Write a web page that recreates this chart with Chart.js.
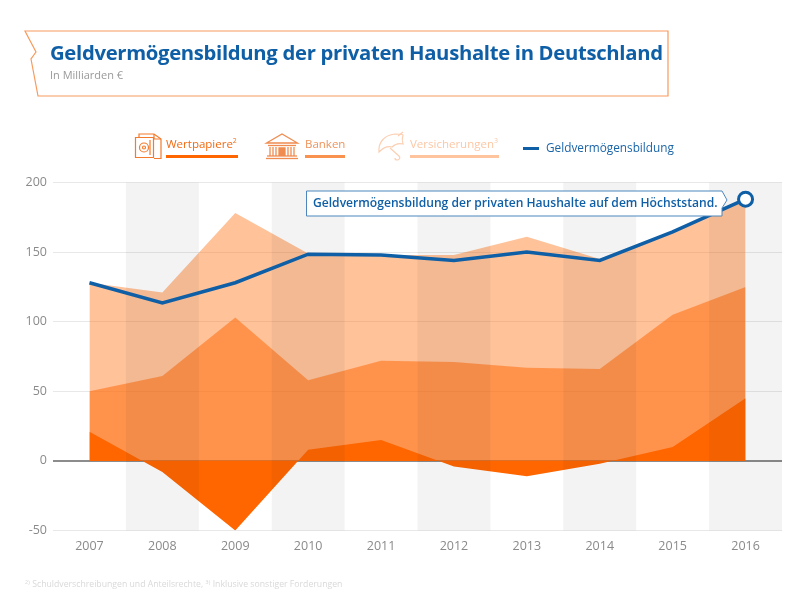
<!DOCTYPE html>
<html lang="de"><head><meta charset="utf-8">
<script src="https://cdn.jsdelivr.net/npm/chart.js@4/dist/chart.umd.min.js"></script>
<style>
html,body{margin:0;padding:0;background:#fff;width:808px;height:600px;overflow:hidden;font-family:"Open Sans",sans-serif}
#c{position:absolute;left:0;top:0}
.t{position:absolute;white-space:nowrap;line-height:1}
sup{font-size:60%;line-height:0;vertical-align:super}
svg{position:absolute;left:0;top:0}
.u{position:absolute;height:3px}
</style></head><body>
<canvas id="c" width="808" height="600"></canvas>
<svg width="808" height="600" viewBox="0 0 808 600" fill="none">
  <polygon points="25,31 668,31 668,96 38,96 31,59 36,52" fill="#fff" stroke="#f79a5c" stroke-width="1.2"/>
  <g stroke="#f47a2c" stroke-width="1.200">
    <path d="M135.500 137.500h18v20h-18z"/><path d="M139 137v-3h15l7 5v19.500h-7"/><path d="M154 134v5h7"/>
    <circle cx="144" cy="147.500" r="4.500"/><circle cx="144" cy="147.500" r="1.500"/><path d="M150 140v15"/>
  </g>
  <g stroke="#f08c50" stroke-width="1.300">
    <path d="M266.500 143l15.500-9 15.500 9z"/><path d="M268 145.500h28"/><path d="M267 156h30"/><path d="M266 158.500h32"/>
    <path d="M270 147v9M273 147v9M276 147v9M288 147v9M291 147v9M294 147v9"/>
    <path d="M279 156v-8h6v8" fill="#f08c50"/>
  </g>
  <g stroke="#fbcfb2" stroke-width="1.200">
    <path d="M379 152c-1-9 5-17 16-18 3 0 6 0 8 1-1 3-1 6 0 9-4-1-8 0-11 3-4-1-9 1-13 5z"/>
    <path d="M390 148l9 8c2 2 0 4-2 4-1 0-2-1-2-2"/><path d="M398 136l5-4"/>
  </g>
</svg>
<div class="t" style="left:50px;top:42px;font-size:20.300px;font-weight:700;color:#0f5fa6;letter-spacing:-.32px">Geldvermögensbildung der privaten Haushalte in Deutschland</div>
<div class="t" style="left:50px;top:69px;font-size:11px;color:#9a9a9a">In Milliarden €</div>

<div class="t" style="left:166px;top:138px;font-size:11.500px;color:#f26a12">Wertpapiere<sup>2</sup></div>
<div class="u" style="left:166px;top:155px;width:72px;background:#ff6600"></div>
<div class="t" style="left:305px;top:138px;font-size:11.500px;color:#f0935a">Banken</div>
<div class="u" style="left:305px;top:155px;width:40px;background:#f9924e"></div>
<div class="t" style="left:410px;top:138px;font-size:11.500px;color:#fcc7a5">Versicherungen<sup>3</sup></div>
<div class="u" style="left:410px;top:155px;width:89px;background:#fec49e"></div>
<div class="u" style="left:523px;top:147px;width:16px;height:3px;background:#0f5fa6"></div>
<div class="t" style="left:546px;top:142px;font-size:11.800px;color:#1a65a8">Geldvermögensbildung</div>

<svg width="808" height="600" viewBox="0 0 808 600" fill="none" style="z-index:2">
  <polygon points="306.500,191 722,191 727,200 722,208 722,216 306.500,216" fill="#fff" stroke="#4d86bd" stroke-width="1"/>
</svg>
<div class="t" style="left:313px;top:197px;font-size:12.100px;font-weight:600;color:#0f5fa6;z-index:3">Geldvermögensbildung der privaten Haushalte auf dem Höchststand.</div>
<div class="t" style="left:25px;top:580px;font-size:8.700px;color:#d9d9d9">²⁾ Schuldverschreibungen und Anteilsrechte, ³⁾ Inklusive sonstiger Forderungen</div>

<script>
const categories = ["2007","2008","2009","2010","2011","2012","2013","2014","2015","2016"];
const wertpapiere = [21,-8,-50,8,15,-4,-11,-2,10,45];
const banken = [50,61,103,58,72,71,67,66,105,125];
const versicherungen = [128,121,178,149,148,148,161,145,165,188];
const geldvermoegen = [128,113.500,128,148.500,148,144,150,144,164.500,188];
const yTicks = [-50,0,50,100,150,200];

const bands = {
  id:'bands',
  beforeDatasetDraw(chart,args){
    if(args.index!==3) return;
    const {ctx,chartArea:a,scales:{x}}=chart;
    ctx.save();
    ctx.globalCompositeOperation='multiply';
    ctx.fillStyle='#f3f3f3';
    categories.forEach((c,i)=>{
      if(i%2===1){
        const w=x.getPixelForValue(1)-x.getPixelForValue(0);
        ctx.fillRect(x.getPixelForValue(i)-w/2,a.top,w,a.bottom-a.top);
      }
    });
    ctx.restore();
  }
};
const area=(label,data,alpha,order)=>({type:'line',label,data,order,fill:'origin',
  backgroundColor:`rgba(255,102,0,${alpha})`,borderWidth:0,pointRadius:0,tension:0});

new Chart(document.getElementById('c'),{
  type:'line',
  data:{labels:categories,datasets:[
    area('Wertpapiere',wertpapiere,1,1),
    area('Banken',banken,0.5,2),
    area('Versicherungen',versicherungen,0.4,3),
    {type:'line',label:'Geldvermögensbildung',data:geldvermoegen,order:0,fill:false,
     borderColor:'#0f5fa6',borderWidth:3.500,tension:0,borderCapStyle:'butt',
     pointRadius:categories.map((c,i)=>i===categories.length-1?7:0),
     pointBackgroundColor:'#fff',pointBorderColor:'#0f5fa6',pointBorderWidth:3}
  ]},
  options:{
    responsive:false,animation:false,devicePixelRatio:1,
    layout:{padding:{top:182.500,right:26,left:0,bottom:0}},
    plugins:{legend:{display:false},tooltip:{enabled:false}},
    scales:{
      x:{offset:true,grid:{display:false,drawTicks:false},border:{display:false},
        ticks:{color:'#8a8a8a',font:{family:'"Open Sans"',size:12.500},padding:8,maxRotation:0},
        afterFit(s){s.height=69.500;}},
      y:{min:-50,max:200,z:1,
        afterBuildTicks(s){s.ticks=yTicks.map(v=>({value:v}));},
        grid:{drawTicks:false,
          color:c=>c.tick.value===0?'#8c8c8c':'rgba(0,0,0,0.09)',
          lineWidth:c=>c.tick.value===0?2:1},
        border:{display:false},
        ticks:{color:'#8a8a8a',font:{family:'"Open Sans"',size:12.500},padding:6},
        afterFit(s){s.width=53;}}
    }
  },
  plugins:[bands]
});
</script>
</body></html>
